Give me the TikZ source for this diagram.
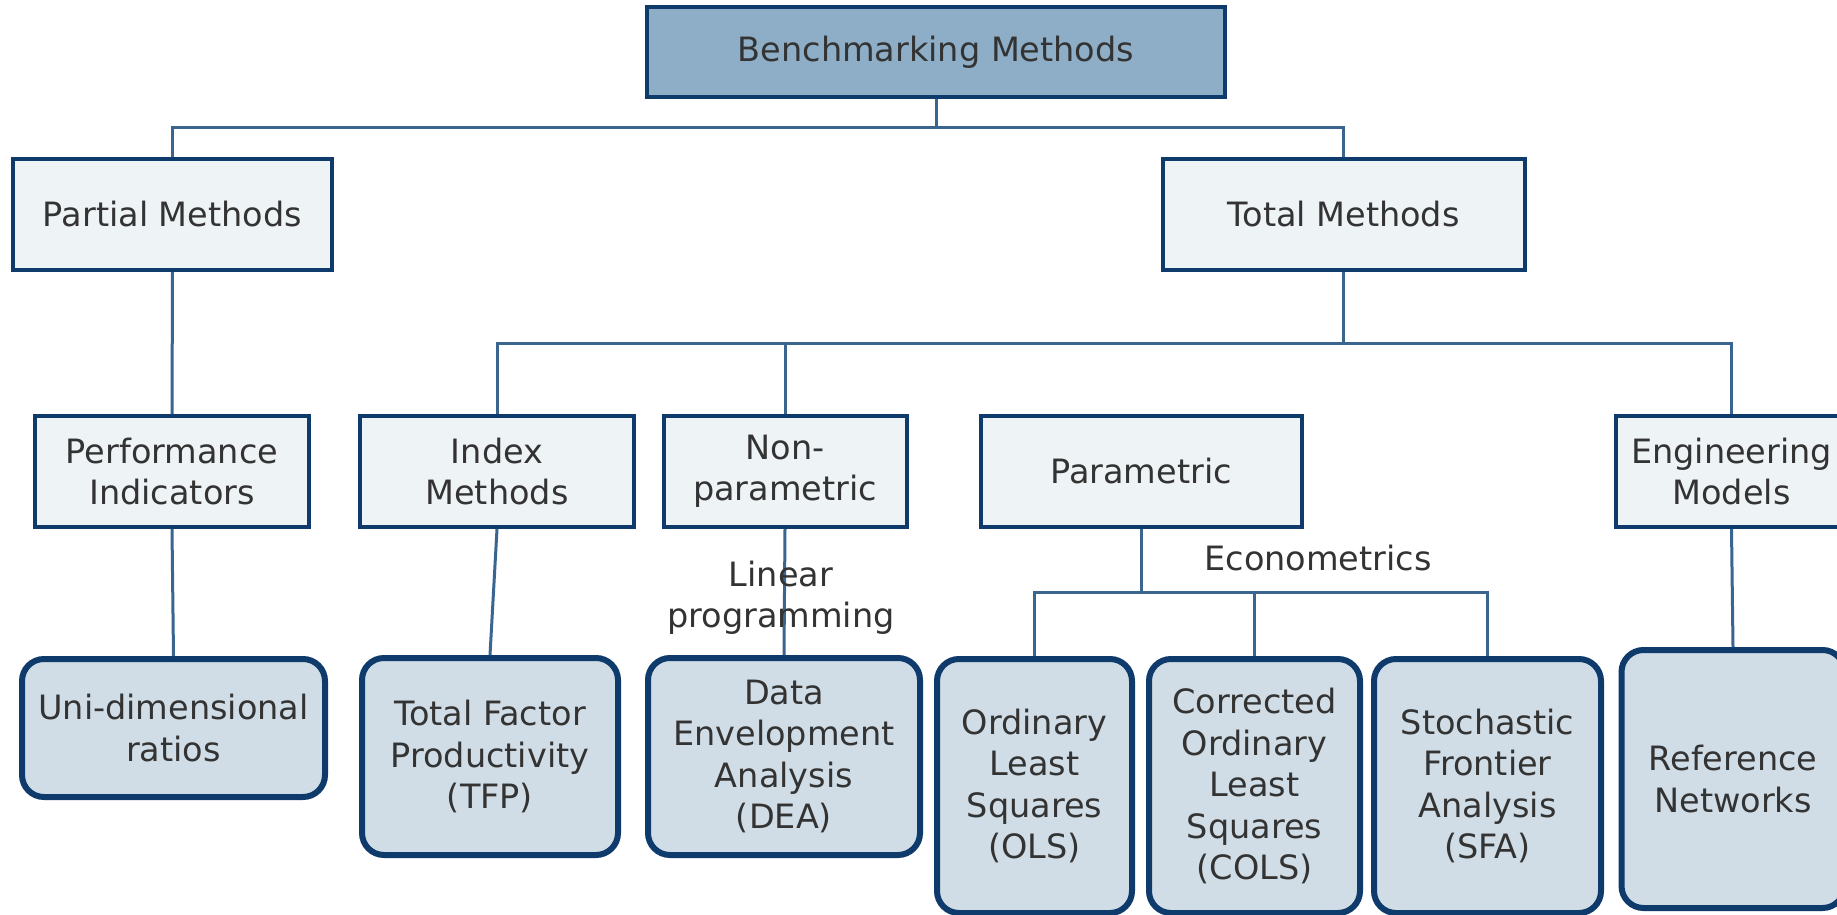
\documentclass[tikz,border=0pt]{standalone}
\usepackage{fontspec}
\setmainfont{DejaVu Sans}
\begin{document}
\begin{tikzpicture}[x=1pt,y=-1pt,
  txt/.style={text=txtc,font=\fontsize{33.5}{41.5}\selectfont,align=center,inner sep=0pt},
  lvl/.style={txt,draw=bordc,line width=4pt,fill=lightf,rectangle},
  topbox/.style={txt,draw=bordc,line width=3.5pt,fill=topf,rectangle},
  leaf/.style={txt,draw=bordc,line width=6pt,fill=leaff,rectangle,rounded corners=22pt},
  conn/.style={draw=connc,line width=3pt}]
\definecolor{bordc}{RGB}{14,59,108}
\definecolor{connc}{RGB}{59,101,145}
\definecolor{lightf}{RGB}{238,243,246}
\definecolor{leaff}{RGB}{208,221,230}
\definecolor{topf}{RGB}{141,174,198}
\definecolor{txtc}{RGB}{51,51,51}
\useasboundingbox (0,0) rectangle (1837,915);
\fill[white] (0,0) rectangle (1837,915);
\tikzset{txtc/.style={}}
% level 1
\node[topbox,minimum width=578pt,minimum height=90pt] (top) at (936,52) {Benchmarking Methods};
% level 2
\node[lvl,minimum width=319pt,minimum height=111pt] (partial) at (172.5,214.5) {Partial Methods};
\node[lvl,minimum width=362pt,minimum height=111pt] (total) at (1343.7,214.5) {Total Methods};
% level 3
\node[lvl,minimum width=274pt,minimum height=111pt] (perf) at (172,471.5) {Performance\\Indicators};
\node[lvl,minimum width=274pt,minimum height=111pt] (index) at (497,471.5) {Index\\Methods};
\node[lvl,minimum width=243pt,minimum height=111pt] (nonpar) at (785,471.5) {Non-\\parametric};
\node[lvl,minimum width=321pt,minimum height=111pt] (param) at (1141,471.5) {Parametric};
\node[lvl,minimum width=231pt,minimum height=111pt] (engin) at (1731.5,471.5) {Engineering\\Models};
% leaves
\node[leaf,minimum width=303pt,minimum height=138pt] (uni) at (173.5,728) {Uni-dimensional\\ratios};
\node[leaf,minimum width=256pt,minimum height=197pt] (tfp) at (490,756.5) {Total Factor\\Productivity\\(TFP)};
\node[leaf,minimum width=272pt,minimum height=197pt] (dea) at (784,756.5) {Data\\Envelopment\\Analysis\\(DEA)};
\node[leaf,minimum width=195pt,minimum height=254pt] (ols) at (1034.5,786) {Ordinary\\Least\\Squares\\(OLS)};
\node[leaf,minimum width=211pt,minimum height=254pt] (cols) at (1254.5,786) {Corrected\\Ordinary\\Least\\Squares\\(COLS)};
\node[leaf,minimum width=227pt,minimum height=254pt] (sfa) at (1487.5,786) {Stochastic\\Frontier\\Analysis\\(SFA)};
\node[leaf,minimum width=223pt,minimum height=258pt] (ref) at (1733,779) {Reference\\Networks};
% connectors
\coordinate (b1) at (936,128);
\coordinate (b2) at (1343.7,343);
\coordinate (b3) at (1141,592);
\draw[conn] (top.south) -- (b1);
\draw[conn] (partial.north) |- (b1) -| (total.north);
\draw[conn] (total.south) -- (b2);
\draw[conn] (index.north) |- (b2) -| (engin.north);
\draw[conn] (nonpar.north) -- (nonpar.north |- b2);
\draw[conn] (partial.south) -- (perf.north);
\draw[conn] (perf.south) -- (uni.north);
\draw[conn] (index.south) -- (tfp.north);
\draw[conn] (nonpar.south) -- (dea.north);
\draw[conn] (param.south) -- (b3);
\draw[conn] (ols.north) |- (b3) -| (sfa.north);
\draw[conn] (cols.north) -- (cols.north |- b3);
\draw[conn] (engin.south) -- (ref.north);
% labels
\node[txt] (lp) at (781,598) {Linear\\programming};
\node[txt] (econ) at (1318,558) {Econometrics};
\end{tikzpicture}
\end{document}
